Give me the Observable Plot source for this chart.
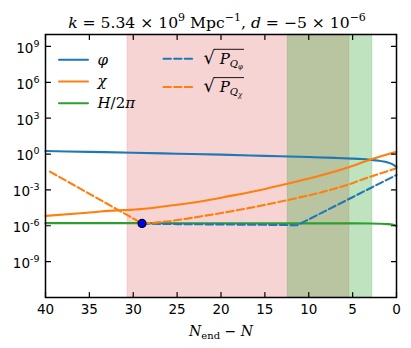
<!DOCTYPE html>
<html>
<head>
<meta charset="utf-8">
<script src="https://cdn.jsdelivr.net/npm/d3@7"></script>
<script src="https://cdn.jsdelivr.net/npm/@observablehq/plot@0.6"></script>
<style>
html,body{margin:0;padding:0;background:#fff;}
</style>
</head>
<body>
<div id="chart"></div>
<script>
// ---------------- data ----------------
const xTicks = [40, 35, 30, 25, 20, 15, 10, 5, 0];
const yTickExps = [-9, -6, -3, 0, 3, 6, 9];
const yDomainExps = [-12, 10];

// phi (solid blue)
const phiN   = [40, 35, 30, 25, 20, 15, 10, 7, 5, 4, 3, 2, 1.5, 1, 0.6, 0.3, 0];
const phiExp = [0.25, 0.18, 0.11, 0.03, -0.05, -0.15, -0.25, -0.32, -0.38, -0.42, -0.48, -0.56, -0.62, -0.7, -0.8, -0.92, -1.08];

// chi (solid orange)
const chiN   = [40, 36, 33.7, 30, 29.2, 25.75, 22.34, 18.92, 15.5, 12.08, 8.66, 5.36, 2.96, 0];
const chiExp = [-5.17, -4.95, -4.8, -4.65, -4.61, -4.31, -3.97, -3.5, -3.0, -2.42, -1.8, -1.08, -0.46, 0.19];

// H / 2pi (solid green)
const hN   = [40, 30, 20, 10, 5, 3, 2, 1, 0.5, 0.2, 0];
const hExp = [-5.78, -5.78, -5.79, -5.8, -5.8, -5.81, -5.83, -5.86, -5.9, -5.95, -6.0];

// sqrt(P_Q_phi) (dashed blue)
const qphiN   = [29, 25, 20, 15, 11.3, 8, 5.36, 3, 0];
const qphiExp = [-5.82, -5.86, -5.89, -5.92, -5.95, -4.72, -3.74, -2.86, -1.75];

// sqrt(P_Q_chi) (dashed orange)
const qchiN   = [39.5, 29, 27.5, 25.75, 24, 22.34, 20.6, 18.92, 17.2, 15.5, 13.8, 12.08, 10.4, 8.66, 7, 5.36, 4.2, 2.96, 1.5, 0];
const qchiExp = [-1.47, -5.8, -5.74, -5.6, -5.42, -5.22, -5.01, -4.8, -4.57, -4.33, -4.07, -3.8, -3.52, -3.22, -2.88, -2.53, -2.21, -1.89, -1.54, -1.19];

// horizon crossing marker
const horizonN = [29];
const horizonExp = [-5.8];

// shaded bands
const spanRed = [30.66, 5.36];
const spanGreen = [12.42, 2.73];

// text
const titlePlain = "k = 5.34 × 10^9 Mpc^-1, d = −5 × 10^-6";
const xLabelPlain = "N_end − N";
const legendKeys = ["phi", "chi", "H", "qphi", "qchi"];
const legendPlain = ["φ", "χ", "H/2π", "sqrtPQphi", "sqrtPQchi"];

// ---------------- build ----------------
const C = {blue: "#1f77b4", orange: "#ff7f0e", green: "#2ca02c", red: "#d62728"};
const toRows = (ns, es) => ns.map((n, i) => ({N: n, v: Math.pow(10, es[i])}));
const yDomain = yDomainExps.map(e => Math.pow(10, e));
const yTicks = yTickExps.map(e => Math.pow(10, e));

const lineShape = {draw(ctx, l) { ctx.moveTo(0, 0); ctx.lineTo(0, -l); }};
const tickOpts = {length: 5, anchor: "start", shape: lineShape, stroke: "black", strokeWidth: 1.2};

const legendStyle = [
  {stroke: C.blue, dash: null, dx: 13.5, dy: 25.3, tdx: 52},
  {stroke: C.orange, dash: null, dx: 13.5, dy: 47, tdx: 52},
  {stroke: C.green, dash: null, dx: 13.5, dy: 68.7, tdx: 52},
  {stroke: C.blue, dash: "7.4,3.2", dx: 118, dy: 24.2, tdx: 158},
  {stroke: C.orange, dash: "7.4,3.2", dx: 118, dy: 52.5, tdx: 158}
];

const legendMarks = legendStyle.flatMap((s, i) => [
  Plot.vector([0], {frameAnchor: "top-left", dx: s.dx, dy: s.dy, rotate: 90, length: 29, anchor: "start",
    shape: lineShape, stroke: s.stroke, strokeWidth: 2, strokeDasharray: s.dash}),
  Plot.text([legendPlain[i]], {text: d => d, frameAnchor: "top-left", dx: s.tdx, dy: s.dy, textAnchor: "start",
    lineAnchor: "middle", fontFamily: "DejaVu Serif", fontSize: 15})
]);

const svg = Plot.plot({
  width: 411, height: 348,
  marginTop: 34, marginBottom: 51, marginLeft: 45, marginRight: 15,
  style: {fontFamily: "DejaVu Sans", fontSize: "13.5px", background: "white", color: "black"},
  x: {domain: [40, 0], label: null},
  y: {type: "log", domain: yDomain, label: null},
  marks: [
    Plot.rect([spanRed], {x1: d => d[0], x2: d => d[1], y1: () => yDomain[0], y2: () => yDomain[1],
      fill: C.red, fillOpacity: 0.2, stroke: C.red, strokeOpacity: 0.12}),
    Plot.rect([spanGreen], {x1: d => d[0], x2: d => d[1], y1: () => yDomain[0], y2: () => yDomain[1],
      fill: C.green, fillOpacity: 0.3, stroke: C.green, strokeOpacity: 0.12}),
    Plot.line(toRows(phiN, phiExp), {x: "N", y: "v", stroke: C.blue, strokeWidth: 2.1, curve: "monotone-x"}),
    Plot.line(toRows(chiN, chiExp), {x: "N", y: "v", stroke: C.orange, strokeWidth: 2.1, curve: "monotone-x"}),
    Plot.line(toRows(hN, hExp), {x: "N", y: "v", stroke: C.green, strokeWidth: 2.1, curve: "monotone-x"}),
    Plot.line(toRows(qphiN, qphiExp), {x: "N", y: "v", stroke: C.blue, strokeWidth: 2.1, strokeDasharray: "7.4,3.2", curve: "linear"}),
    Plot.line(toRows(qchiN, qchiExp), {x: "N", y: "v", stroke: C.orange, strokeWidth: 2.1, strokeDasharray: "7.4,3.2", curve: "linear"}),
    Plot.dot(toRows(horizonN, horizonExp), {x: "N", y: "v", r: 4, fill: "#0000ff", stroke: "black", strokeWidth: 1.2}),
    Plot.axisX({ticks: xTicks, tickSize: 0, tickPadding: 7, fontSize: 13.5}),
    Plot.axisY({ticks: yTicks, tickSize: 0, tickPadding: 6, dy: 2, fontSize: 13.5,
      tickFormat: d => "10^" + Math.round(Math.log10(d))}),
    Plot.vector(xTicks, {x: d => d, frameAnchor: "bottom", rotate: 0, ...tickOpts}),
    Plot.vector(xTicks, {x: d => d, frameAnchor: "top", rotate: 180, ...tickOpts}),
    Plot.vector(yTicks, {y: d => d, frameAnchor: "left", rotate: 90, ...tickOpts}),
    Plot.vector(yTicks, {y: d => d, frameAnchor: "right", rotate: -90, ...tickOpts}),
    ...legendMarks,
    Plot.text([titlePlain], {text: d => d, frameAnchor: "top", dy: -7, dx: -4, lineAnchor: "bottom",
      fontFamily: "DejaVu Serif", fontSize: 15.6}),
    Plot.text([xLabelPlain], {text: d => d, frameAnchor: "bottom", dy: 38.5, lineAnchor: "bottom",
      fontFamily: "DejaVu Serif", fontSize: 14}),
    Plot.frame({stroke: "black", strokeWidth: 1.5})
  ]
});
document.getElementById("chart").appendChild(svg);

// ---------------- rich text (super/subscripts, italics) ----------------
function setRich(el, parts) {
  const t = d3.select(el);
  t.text(null);
  let prev = 0;
  parts.forEach(p => {
    const sh = p.sh || 0;
    const s = t.append("tspan").text(p.t);
    if (p.i) s.attr("font-style", "italic");
    if (p.fs) s.attr("font-size", p.fs);
    if (p.ff) s.attr("font-family", p.ff);
    if (sh !== prev) s.attr("dy", sh - prev);
    prev = sh;
  });
}
const sup = (t, fs, sh) => ({t, fs, sh});
const richMap = {};
richMap[titlePlain] = [
  {t: "k", i: 1}, {t: " = 5.34 × 10"}, sup("9", 11, -6.5), {t: " Mpc"}, sup("−1", 11, -6.5),
  {t: ", "}, {t: "d", i: 1}, {t: " = −5 × 10"}, sup("−6", 11, -6.5)
];
richMap[xLabelPlain] = [{t: "N", i: 1}, {t: "end", fs: 10, sh: 3}, {t: " − "}, {t: "N", i: 1}];
richMap["φ"] = [{t: "φ", i: 1}];
richMap["χ"] = [{t: "χ", i: 1}];
richMap["H/2π"] = [{t: "H", i: 1}, {t: "/2"}, {t: "π", i: 1}];
richMap["sqrtPQphi"] = [{t: "√", fs: 18}, {t: " "}, {t: "P", i: 1, fs: 15}, {t: "Q", i: 1, fs: 10, sh: 3.5}, {t: "φ", i: 1, fs: 7, sh: 5.5}];
richMap["sqrtPQchi"] = [{t: "√", fs: 18}, {t: " "}, {t: "P", i: 1, fs: 15}, {t: "Q", i: 1, fs: 10, sh: 3.5}, {t: "χ", i: 1, fs: 7, sh: 5.5}];

d3.select(svg).selectAll("text").each(function () {
  const key = this.textContent;
  if (richMap[key]) {
    const isSqrt = key.startsWith("sqrt");
    setRich(this, richMap[key]);
    if (isSqrt) {
      const start = this.getStartPositionOfChar(0);
      const sw = this.getSubStringLength(0, 1);
      const bb = this.getBBox();
      d3.select(this.parentNode).append("line")
        .attr("x1", start.x + sw - 1).attr("x2", bb.x + bb.width + 1)
        .attr("y1", start.y - 14.2).attr("y2", start.y - 14.2)
        .attr("transform", d3.select(this).attr("transform"))
        .attr("stroke", "black").attr("stroke-width", 0.9);
    }
  }
});
// y tick labels 10^e
d3.select(svg).selectAll('g[aria-label="y-axis tick label"] text').each(function () {
  const m = /^10\^(-?\d+)$/.exec(this.textContent);
  if (m) setRich(this, [{t: "10"}, sup(m[1], 9.5, -6)]);
});
</script>
</body>
</html>
